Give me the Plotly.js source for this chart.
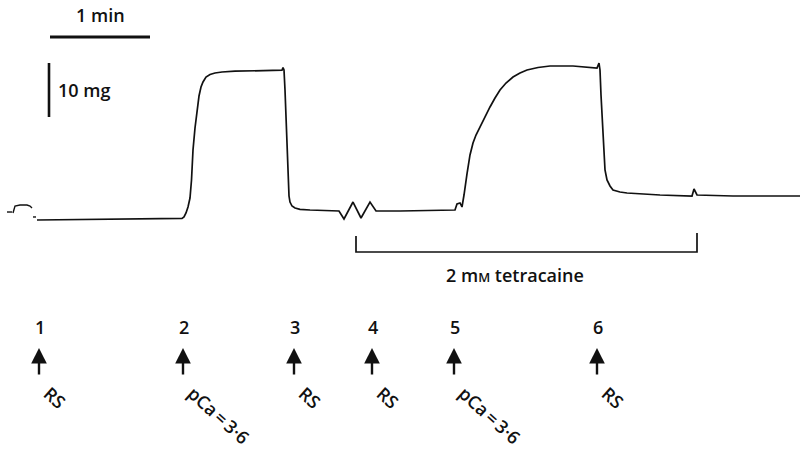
<!DOCTYPE html>
<html><head><meta charset="utf-8">
<script src="https://cdn.plot.ly/plotly-3.0.1.min.js"></script>
<style>html,body{margin:0;padding:0;background:#fff}#chart{width:801px;height:457px}</style>
</head><body><div id="chart"></div>
<script>
// Isometric tension record: time (s) vs tension (mg above resting baseline)
const timeS = [0, 37.8, 87, 88.2, 89.4, 90.6, 91.8, 92.7, 93.6, 94.8, 96, 97.2, 98.4, 99.6, 101.4, 103.8, 106.8, 111, 118.8, 133.8, 147, 147.6, 148.2, 148.8, 149.4, 150, 150.6, 151.2, 151.8, 153, 154.8, 157.8, 163.8, 181.2,
  184.2, 189.6, 194.4, 199.8, 203.4, 217.8, 250.8,
  252, 253.8, 255, 256.2, 256.8, 258, 259.8, 261.6, 263.4, 265.8, 268.8, 271.8, 274.8, 277.8, 281.4, 285.6, 289.8, 294, 300.6, 307.8, 321.6, 331.8, 336, 337.2, 337.8, 338.4, 339, 339.6, 340.2, 340.8, 342, 343.8, 345.6, 349.8, 354, 373.8, 393, 394.2, 396, 417.6, 457.8];
const tensionMg = [0, 0.09, 0.31, 0.56, 1.30, 2.41, 4.07, 7.41, 12.96, 17.04, 20.37, 22.96, 24.63, 25.56, 26.48, 26.94, 27.22, 27.41, 27.56, 27.59, 27.74, 28.24, 27.78, 24.07, 19.07, 12.96, 7.41, 4.44, 3.33, 2.59, 2.22, 1.98, 1.85, 1.67,
  0.19, 3.33, 0.37, 3.33, 1.67, 1.67, 1.85,
  2.96, 3.15, 2.41, 4.63, 6.11, 8.52, 12.04, 14.26, 15.74, 17.22, 19.26, 20.93, 22.59, 24.07, 25.37, 26.48, 27.22, 27.78, 28.24, 28.52, 28.52, 28.33, 28.15, 29.07, 27.78, 23.15, 19.07, 14.81, 11.11, 9.26, 7.41, 6.30, 5.56, 5.19, 5.0, 4.63, 4.44, 5.74, 4.63, 4.44, 4.44];
// fragment recorded before the start of the record
const preTimeS = [-18, -15, null, -14.4, -13.2, -10.2, -6.0, -4.2, -3.0, null, -2.4, -0.6];
const preTensionMg = [1.48, 1.48, null, 1.30, 2.59, 2.78, 2.78, 2.59, 2.22, null, 0.56, 0.56];

// solution changes (arrows)
const eventNumbers = ['1', '2', '3', '4', '5', '6'];
const eventTimes = [1.2, 87.6, 154.2, 201, 250.2, 336];
const eventLabels = ['RS', 'pCa\u2009=\u20093·6', 'RS', 'RS', 'pCa\u2009=\u20093·6', 'RS'];

// drug period
const drugLabel = '2 m<span style="font-size:13px">M</span> tetracaine';
const drugStart = 191.4, drugEnd = 396;

// calibration bars
const scaleTime = 60;    // s  (1 min)
const scaleTension = 10; // mg
const scaleTimeLabel = '1 min';
const scaleTensionLabel = '10 mg';

// ---- helpers for layout positions (axes map linearly onto the page) ----
const pxT = 0.6, x0px = 37, ppmg = 5.4, y0px = 220;
const yPx = p => (y0px - p) / ppmg;   // page y (px) -> tension units
const xPx = p => (p - x0px) * pxT;    // page x (px) -> time units

const FONT = {family: '"Open Sans", Lato, sans-serif', size: 18, color: '#111', weight: 600};

const traces = [
  {x: timeS, y: tensionMg, type: 'scatter', mode: 'lines',
   line: {color: '#111', width: 1.7, shape: 'linear'}, hoverinfo: 'skip'},
  {x: preTimeS, y: preTensionMg, type: 'scatter', mode: 'lines', connectgaps: false,
   line: {color: '#111', width: 1.4}, hoverinfo: 'skip'}
];

const barX = xPx(50), barY = yPx(37);
const vbarX = xPx(49), vbarTop = yPx(63);
const shapes = [
  {type: 'line', xref: 'x', yref: 'y', x0: barX, x1: barX + scaleTime, y0: barY, y1: barY,
   line: {color: '#111', width: 3}},
  {type: 'line', xref: 'x', yref: 'y', x0: vbarX, x1: vbarX, y0: vbarTop, y1: vbarTop - scaleTension,
   line: {color: '#111', width: 2.6}},
  {type: 'path', xref: 'x', yref: 'y',
   path: `M ${drugStart} ${yPx(236)} L ${drugStart} ${yPx(252)} L ${drugEnd} ${yPx(252)} L ${drugEnd} ${yPx(233)}`,
   line: {color: '#111', width: 1.7}}
];

const annotations = [
  {x: barX + scaleTime / 2, y: yPx(15), xref: 'x', yref: 'y', text: scaleTimeLabel, showarrow: false,
   xanchor: 'center', yanchor: 'middle', font: FONT},
  {x: xPx(56), y: yPx(90), xref: 'x', yref: 'y', text: scaleTensionLabel, showarrow: false,
   xanchor: 'left', yanchor: 'middle', font: FONT},
  {x: (drugStart + drugEnd) / 2, xshift: -12, y: yPx(275), xref: 'x', yref: 'y', text: drugLabel, showarrow: false,
   xanchor: 'center', yanchor: 'middle', font: FONT}
];
eventTimes.forEach((t, i) => {
  annotations.push({x: t, y: yPx(327), xref: 'x', yref: 'y', xshift: 1, text: eventNumbers[i], showarrow: false,
    xanchor: 'center', yanchor: 'middle', font: FONT});
  annotations.push({x: t, y: yPx(348), xref: 'x', yref: 'y', text: '', showarrow: true,
    ax: 0, ay: 28, arrowhead: 2, arrowsize: 1.3, arrowwidth: 2.4, arrowcolor: '#111', standoff: 0});
  annotations.push({x: t, y: yPx(380), xref: 'x', yref: 'y', xshift: -2, text: eventLabels[i], showarrow: false,
    textangle: 42, xanchor: 'left', yanchor: 'top', font: FONT, borderpad: 0});
});

const layout = {
  width: 801, height: 457,
  margin: {l: 0, r: 0, t: 0, b: 0, pad: 0},
  paper_bgcolor: '#fff', plot_bgcolor: '#fff',
  showlegend: false,
  xaxis: {range: [xPx(0), xPx(801)], visible: false, fixedrange: true},
  yaxis: {range: [yPx(457), yPx(0)], visible: false, fixedrange: true},
  shapes: shapes,
  annotations: annotations
};

Plotly.newPlot('chart', traces, layout, {displayModeBar: false, staticPlot: true});
</script>
</body></html>
